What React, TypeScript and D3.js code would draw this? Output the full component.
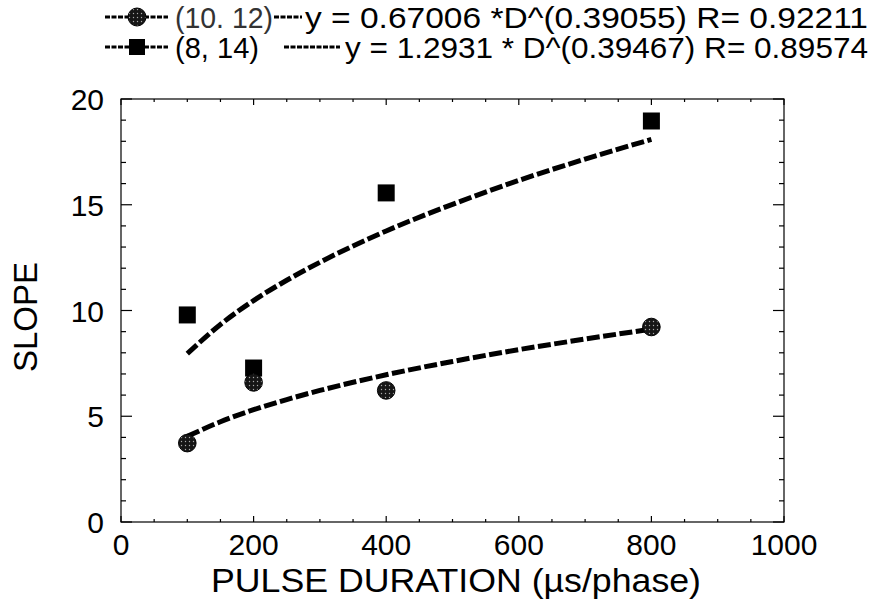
import React from "react";
import * as d3 from "d3";

const durations = [100, 200, 400, 800];
const slope1012 = [3.73, 6.6, 6.22, 9.22];
const slope814 = [9.79, 7.28, 15.56, 18.96];

// fitted power curves as printed on the chart
const fitD = [100, 150, 200, 250, 300, 400, 500, 600, 700, 800];
const fit1012 = [4.05, 4.74, 5.31, 5.79, 6.22, 6.96, 7.59, 8.15, 8.65, 9.12];
const fit814 = [7.96, 9.34, 10.47, 11.43, 12.28, 13.76, 15.02, 16.15, 17.16, 18.09];

const xTicks = [0, 200, 400, 600, 800, 1000];
const yTicks = [0, 5, 10, 15, 20];

const legend1 = { label: "(10. 12)", eq: "y = 0.67006 *D^(0.39055) R= 0.92211" };
const legend2 = { label: "(8, 14)", eq: "y = 1.2931 * D^(0.39467) R= 0.89574" };

const W = 871;
const H = 601;
const L = 121, R = 784, T = 99, B = 522;
const FONT = "'Liberation Sans', Arial, Helvetica, sans-serif";

export default function App() {
  const x = d3.scaleLinear().domain([0, 1000]).range([L, R]);
  const y = d3.scaleLinear().domain([0, 20]).range([B, T]);
  const line = d3
    .line<[number, number]>()
    .x((d) => x(d[0]))
    .y((d) => y(d[1]))
    .curve(d3.curveMonotoneX);

  const xMinor = d3.range(0, 1001, 50);
  const yMinor = d3.range(0, 21, 1);

  const pts1 = fitD.map((d, i) => [d, fit1012[i]] as [number, number]);
  const pts2 = fitD.map((d, i) => [d, fit814[i]] as [number, number]);

  const dash = "13 3.5";
  const r1 = 17, r2 = 47;

  return (
    <svg
      width={W}
      height={H}
      style={{ position: "absolute", left: 0, top: 0, background: "#fff" }}
      fontFamily={FONT}
    >
      <defs>
        <pattern id="stip" width="4" height="4" patternUnits="userSpaceOnUse">
          <rect width="4" height="4" fill="#161616" />
          <circle cx="1.5" cy="1.5" r="0.7" fill="#aaa" />
        </pattern>
      </defs>
      <rect x={0} y={0} width={W} height={H} fill="#fff" />

      {/* frame */}
      <rect x={L} y={T} width={R - L} height={B - T} fill="none" stroke="#000" strokeWidth={1.2} />

      {/* y ticks left & right */}
      {yMinor.map((v) => {
        const major = v % 5 === 0;
        const len = major ? 11 : 5;
        return (
          <g key={"yt" + v}>
            <line x1={L} x2={L + len} y1={y(v)} y2={y(v)} stroke="#000" strokeWidth={1.2} />
            <line x1={R} x2={R - len} y1={y(v)} y2={y(v)} stroke="#000" strokeWidth={1.2} />
          </g>
        );
      })}
      {/* x ticks bottom & top */}
      {xMinor.map((v) => {
        const major = v % 200 === 0;
        const len = major ? 6 : 3;
        return (
          <g key={"xt" + v}>
            <line x1={x(v)} x2={x(v)} y1={B} y2={B - len} stroke="#000" strokeWidth={1.2} />
            <line x1={x(v)} x2={x(v)} y1={T} y2={T + len} stroke="#000" strokeWidth={1.2} />
          </g>
        );
      })}

      {/* tick labels */}
      {xTicks.map((v) => (
        <text key={"xl" + v} x={x(v)} y={555} textAnchor="middle" fontSize={30} fill="#000">
          {v}
        </text>
      ))}
      {yTicks.map((v) => (
        <text key={"yl" + v} x={104} y={y(v) + 11} textAnchor="end" fontSize={30} fill="#000">
          {v}
        </text>
      ))}

      {/* axis titles */}
      <text x={456} y={592} textAnchor="middle" fontSize={33} textLength={490} lengthAdjust="spacingAndGlyphs" fill="#000">
        PULSE DURATION (µs/phase)
      </text>
      <text
        transform={`translate(37,317) rotate(-90)`}
        textAnchor="middle"
        fontSize={33}
        fill="#000"
      >
        SLOPE
      </text>

      {/* fit curves */}
      <path d={line(pts2) || ""} fill="none" stroke="#000" strokeWidth={5} strokeDasharray={dash} strokeLinecap="butt" />
      <path d={line(pts1) || ""} fill="none" stroke="#000" strokeWidth={5} strokeDasharray={dash} strokeLinecap="butt" />

      {/* markers */}
      {durations.map((d, i) => (
        <rect key={"sq" + d} x={x(d) - 8.5} y={y(slope814[i]) - 8.5} width={17} height={17} fill="#000" />
      ))}
      {durations.map((d, i) => (
        <circle key={"ci" + d} cx={x(d)} cy={y(slope1012[i])} r={8.8} fill="url(#stip)" stroke="#000" strokeWidth={1} />
      ))}

      {/* legend */}
      <g>
        <line x1={105} x2={168} y1={r1} y2={r1} stroke="#000" strokeWidth={3} strokeDasharray="5 1.5" />
        <circle cx={137} cy={r1} r={9} fill="url(#stip)" stroke="#000" strokeWidth={1} />
        <text x={175} y={r1 + 11} fontSize={30} textLength={98} lengthAdjust="spacingAndGlyphs" fill="#333">
          {legend1.label}
        </text>
        <line x1={274} x2={302} y1={r1} y2={r1} stroke="#000" strokeWidth={3} strokeDasharray="5 1.5" />
        <text x={305} y={r1 + 11} fontSize={30} textLength={563} lengthAdjust="spacingAndGlyphs" fill="#000">
          {legend1.eq}
        </text>

        <line x1={105} x2={168} y1={r2} y2={r2} stroke="#000" strokeWidth={3} strokeDasharray="5 1.5" />
        <rect x={129} y={r2 - 8} width={16} height={16} fill="#000" />
        <text x={175} y={r2 + 11} fontSize={30} textLength={84} lengthAdjust="spacingAndGlyphs" fill="#000">
          {legend2.label}
        </text>
        <line x1={284} x2={340} y1={r2} y2={r2} stroke="#000" strokeWidth={3} strokeDasharray="5 1.5" />
        <text x={345} y={r2 + 11} fontSize={30} textLength={523} lengthAdjust="spacingAndGlyphs" fill="#000">
          {legend2.eq}
        </text>
      </g>
    </svg>
  );
}
